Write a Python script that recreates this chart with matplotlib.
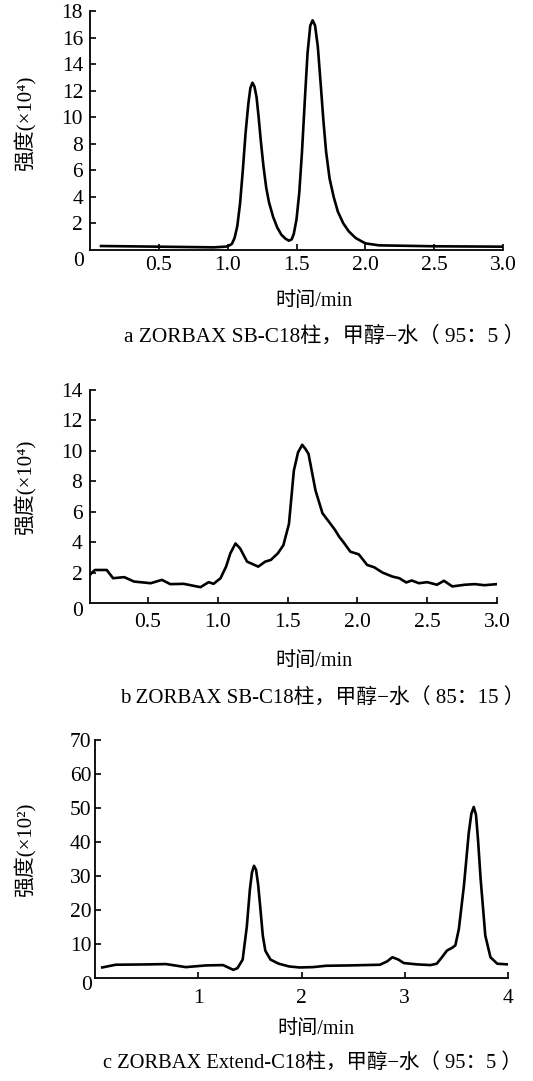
import matplotlib
matplotlib.use("Agg")
import matplotlib.pyplot as plt

W, H = 533, 1081

# ---------------- data ----------------
time_a = [0.08, 0.5, 0.9, 0.98, 1.0, 1.03, 1.05, 1.07, 1.09, 1.11, 1.13, 1.15, 1.165, 1.18,
          1.195, 1.21, 1.225, 1.24, 1.26, 1.28, 1.30, 1.33, 1.36, 1.39, 1.42, 1.445, 1.465,
          1.48, 1.50, 1.52, 1.54, 1.56, 1.58, 1.60, 1.617, 1.635, 1.655, 1.675, 1.695, 1.715,
          1.74, 1.77, 1.80, 1.84, 1.88, 1.93, 2.0, 2.1, 2.5, 3.0]
inten_a = [0.3, 0.25, 0.2, 0.25, 0.28, 0.45, 0.9, 1.8, 3.5, 6.0, 8.8, 11.0, 12.2, 12.6,
           12.3, 11.5, 10.0, 8.3, 6.3, 4.7, 3.6, 2.5, 1.7, 1.15, 0.85, 0.7, 0.8,
           1.2, 2.3, 4.3, 7.4, 11.2, 14.8, 16.9, 17.3, 16.9, 15.3, 12.6, 9.8, 7.4,
           5.4, 4.0, 2.9, 2.0, 1.4, 0.9, 0.5, 0.35, 0.28, 0.25]

time_b = [0.085, 0.10, 0.12, 0.205, 0.25, 0.33, 0.40, 0.52, 0.60, 0.66, 0.756, 0.876, 0.935,
          0.97, 1.02, 1.06, 1.09, 1.127, 1.16, 1.21, 1.29, 1.34, 1.38, 1.43, 1.47, 1.51,
          1.545, 1.575, 1.605, 1.63, 1.65, 1.70, 1.75, 1.797, 1.84, 1.87, 1.90, 1.95, 2.01,
          2.07, 2.12, 2.18, 2.25, 2.30, 2.35, 2.39, 2.44, 2.50, 2.57, 2.62, 2.68, 2.77,
          2.84, 2.91, 3.0]
inten_b = [1.85, 2.0, 2.17, 2.17, 1.63, 1.7, 1.41, 1.3, 1.52, 1.24, 1.26, 1.04, 1.37,
           1.26, 1.63, 2.4, 3.26, 3.91, 3.59, 2.72, 2.39, 2.72, 2.83, 3.26, 3.8, 5.2,
           8.7, 9.9, 10.4, 10.1, 9.8, 7.4, 5.9, 5.33, 4.8, 4.35, 4.0, 3.37, 3.2,
           2.5, 2.35, 2.0, 1.74, 1.63, 1.35, 1.48, 1.3, 1.37, 1.2, 1.46, 1.09, 1.2,
           1.24, 1.17, 1.24]

time_c = [0.07, 0.2, 0.52, 0.685, 0.88, 1.075, 1.24, 1.29, 1.34, 1.38, 1.43, 1.47, 1.50,
          1.52, 1.54, 1.56, 1.58, 1.60, 1.625, 1.65, 1.70, 1.78, 1.88, 1.98, 2.11, 2.24,
          2.47, 2.76, 2.83, 2.88, 2.94, 2.99, 3.12, 3.25, 3.31, 3.36, 3.41, 3.46, 3.49,
          3.524, 3.573, 3.62, 3.645, 3.668, 3.69, 3.71, 3.735, 3.78, 3.83, 3.896, 4.0]
inten_c = [3.1, 3.9, 4.0, 4.1, 3.2, 3.7, 3.8, 3.1, 2.4, 2.9, 5.4, 15.0, 26.0,
           31.0, 33.0, 31.8, 27.5, 21.0, 12.5, 8.0, 5.4, 4.2, 3.4, 3.1, 3.2, 3.6,
           3.7, 3.9, 4.9, 6.1, 5.4, 4.4, 4.0, 3.8, 4.2, 6.1, 8.1, 8.9, 9.6,
           14.4, 27.1, 42.7, 48.3, 50.3, 48.0, 40.5, 29.1, 12.5, 6.1, 4.2, 4.0]

xticks_ab = [0.5, 1.0, 1.5, 2.0, 2.5, 3.0]
xticklabels_ab = ["0.5", "1.0", "1.5", "2.0", "2.5", "3.0"]
yticks_a = [2, 4, 6, 8, 10, 12, 14, 16, 18]
yticks_b = [2, 4, 6, 8, 10, 12, 14]
xticks_c = [1, 2, 3, 4]
yticks_c = [10, 20, 30, 40, 50, 60, 70]

ylabel_a = "强度(×10⁴)"
ylabel_b = "强度(×10⁴)"
ylabel_c = "强度(×10²)"
xlabel = "时间/min"
caption_a = "a ZORBAX SB-C18柱，甲醇−水（ 95：5 ）"
caption_b = "b ZORBAX SB-C18柱，甲醇−水（ 85：15 ）"
caption_c = "c ZORBAX Extend-C18柱，甲醇−水（ 95：5 ）"

FAM = ["Liberation Serif", "Noto Sans CJK SC", "DejaVu Serif"]
plt.rcParams["font.family"] = FAM

fig = plt.figure(figsize=(W / 100, H / 100), dpi=100)


def add_ax(left, right, top, bottom):
    return fig.add_axes([left / W, 1 - bottom / H, (right - left) / W, (bottom - top) / H])


def ftext(x, y, s, **kw):
    fig.text(x / W, 1 - y / H, s, **kw)


TICK_FS = 15.5


def style(ax, xpad, ypad):
    for s in ["top", "right"]:
        ax.spines[s].set_visible(False)
    for s in ["left", "bottom"]:
        ax.spines[s].set_linewidth(1.3)
    ax.tick_params(direction="in", length=4, width=1.2, labelsize=TICK_FS)
    ax.tick_params(axis="x", pad=xpad)
    ax.tick_params(axis="y", pad=ypad)


# panel a
ax = add_ax(90, 503, 11, 250)
ax.plot(time_a, inten_a, color="black", lw=1.9)
ax.set_xlim(0, 3.0)
ax.set_ylim(0, 18)
ax.set_xticks(xticks_ab)
ax.set_xticklabels(xticklabels_ab)
ax.set_yticks(yticks_a)
style(ax, 4, 5)
ftext(79, 262, "0", fontsize=TICK_FS, ha="center", va="center")
ftext(25, 123, ylabel_a, fontsize=15, rotation=90, ha="center", va="center")
ftext(314, 301, xlabel, fontsize=14.5, ha="center", va="center")
ftext(324, 336, caption_a, fontsize=15.3, ha="center", va="center")

# panel b
ax = add_ax(90, 497, 390, 603)
ax.plot(time_b, inten_b, color="black", lw=1.9)
ax.set_xlim(0.085, 3.0)
ax.set_ylim(0, 14)
ax.set_xticks(xticks_ab)
ax.set_xticklabels(xticklabels_ab)
ax.set_yticks(yticks_b)
style(ax, 7, 5.5)
ftext(78, 612, "0", fontsize=TICK_FS, ha="center", va="center")
ftext(25, 487, ylabel_b, fontsize=15, rotation=90, ha="center", va="center")
ftext(314, 661, xlabel, fontsize=14.5, ha="center", va="center")
ftext(322, 698, caption_b, fontsize=15, ha="center", va="center")

# panel c
ax = add_ax(95, 508, 740, 978)
ax.plot(time_c, inten_c, color="black", lw=1.9)
ax.set_xlim(0, 4.0)
ax.set_ylim(0, 70)
ax.set_xticks(xticks_c)
ax.set_yticks(yticks_c)
style(ax, 8, 2.5)
ftext(87, 985, "0", fontsize=TICK_FS, ha="center", va="center")
ftext(25, 850, ylabel_c, fontsize=15, rotation=90, ha="center", va="center")
ftext(316, 1030, xlabel, fontsize=14.5, ha="center", va="center")
ftext(312, 1063, caption_c, fontsize=14.8, ha="center", va="center")

fig.savefig("out.png", dpi=100, facecolor="white")
